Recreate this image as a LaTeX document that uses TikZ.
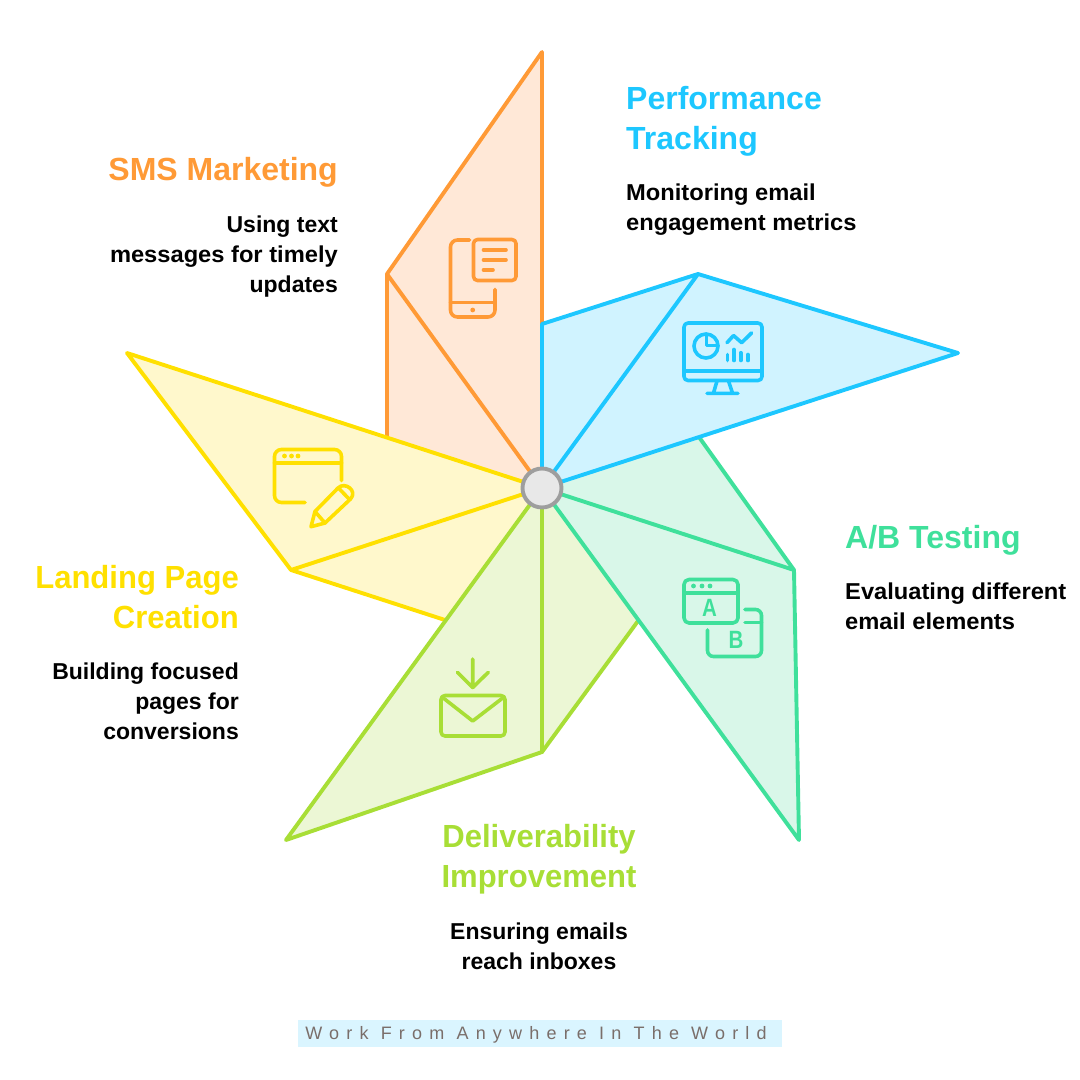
\documentclass[tikz,border=0pt]{standalone}
\usepackage{fontspec}
\setmainfont{Liberation Sans}
\newfontfamily\footfont[LetterSpace=40]{Liberation Sans}
\definecolor{cOr}{HTML}{FF9A36}\definecolor{fOr}{HTML}{FFE8D7}
\definecolor{cBl}{HTML}{1DC7FF}\definecolor{fBl}{HTML}{D0F3FF}
\definecolor{cGr}{HTML}{3FE09B}\definecolor{fGr}{HTML}{D9F7E9}
\definecolor{cLi}{HTML}{A8DE36}\definecolor{fLi}{HTML}{ECF7D5}
\definecolor{cYe}{HTML}{FFE000}\definecolor{fYe}{HTML}{FFF8CC}
\newcommand\fl[1]{\rule{0pt}{#1pt}}
\newcommand\wide[1]{{\addfontfeature{FakeStretch=1.03}#1}}
\newcommand\narrow[1]{{\addfontfeature{FakeStretch=0.97}#1}}
\tikzset{
 x=1pt,y=-1pt,
 blade/.style={line width=3.9pt,line join=round,line cap=round},
 icon/.style={line width=3.6pt,line join=round,line cap=round},
 title/.style={inner sep=0pt,font=\fontsize{32}{40}\selectfont\bfseries},
 desc/.style={inner sep=0pt,text=black,font=\fontsize{23}{30}\selectfont\bfseries},
 glyph/.style={inner sep=0pt,font=\fontsize{25}{25}\selectfont\bfseries\addfontfeature{FakeStretch=0.82}}
}
\begin{document}
\begin{tikzpicture}
\useasboundingbox (0,0) rectangle (1080,1080);
% orange blade
\fill[fOr] (542,52)--(542,488)--(387,437)--(387,274)--cycle;
\draw[blade,cOr] (387,437)--(387,274)--(542,52)--(542,488)--(387,274);
% yellow blade
\fill[fYe] (127,353)--(542,488)--(445,620)--(291,570)--cycle;
\draw[blade,cYe] (542,488)--(127,353)--(291,570)--(542,488);
\draw[blade,cYe] (291,570)--(445,620);
% lime blade
\fill[fLi] (542,488)--(286,840)--(542,752)--(638,621)--cycle;
\draw[blade,cLi] (542,488)--(286,840)--(542,752)--(638,621);
\draw[blade,cLi] (542,488)--(542,752);
% green blade
\fill[fGr] (542,488)--(699,437)--(794,570)--(799,840)--cycle;
\draw[blade,cGr] (699,437)--(794,570)--(799,840)--(542,488)--(794,570);
% blue blade
\fill[fBl] (542,488)--(542,324)--(698,274)--(958,353)--cycle;
\draw[blade,cBl] (542,488)--(542,324)--(698,274)--(958,353)--(542,488)--(698,274);
% hub
\draw[line width=3.9pt,draw=black!38,fill=black!9] (542,488) circle (19.5);
% phone icon
\begin{scope}[icon,cOr]
\draw[rounded corners=7] (469.5,240)--(450.5,240)--(450.5,317)--(495,317)--(495,289.5);
\draw (450.5,302.5)--(495,302.5);
\fill (472.7,310) circle (2.4);
\draw[rounded corners=4] (473.5,239.5) rectangle (516,280.5);
\draw (483.5,250)--(506,250) (483.5,260)--(506,260) (483.5,270)--(493,270);
\end{scope}
% monitor icon
\begin{scope}[icon,cBl]
\draw[rounded corners=4] (684,323) rectangle (762,380.5);
\draw (684,371)--(762,371);
\draw (717,381)--(713.5,393) (728.5,381)--(732.5,393) (707,393.3)--(738,393.3);
\draw (706,346) circle (12);
\draw (706.5,334)--(706.5,345.5)--(718,345.5);
\draw (727,342.7)--(733.5,335.5)--(741.7,342.7)--(751.5,333);
\draw (727.3,354.5)--(727.3,360.5) (734,349.5)--(734,360.5) (740.7,352.7)--(740.7,360.5) (748,354.5)--(748,360.5);
\end{scope}
% window and pencil icon
\begin{scope}[icon,cYe]
\draw[rounded corners=7] (341.5,480.5)--(341.5,449.5)--(274.5,449.5)--(274.5,502.5)--(305,502.5);
\draw (274.5,462.7)--(341.5,462.7);
\fill (284.5,456) circle (2.4) (291.5,456) circle (2.4) (298,456) circle (2.4);
\draw (315,511.5)--(338,488) .. controls (345,481) and (358,491) .. (350.5,499)--(325,523)--(311,526.7)--cycle;
\draw (339.5,489)--(349.5,499.5) (315,511.5)--(325,523);
\end{scope}
% A/B icon
\begin{scope}[icon,cGr]
\draw[rounded corners=5] (684,579.5) rectangle (738,623);
\draw (684,592.7)--(738,592.7);
\fill (693.5,586) circle (2.4) (702,586) circle (2.4) (710,586) circle (2.4);
\draw[rounded corners=6] (745,609.5)--(761.5,609.5)--(761.5,656.5)--(707.5,656.5)--(707.5,630);
\draw (745,622.3)--(761.5,622.3);
\end{scope}
\node[glyph,text=cGr] (glyA) at (709.5,608) {A};
\node[glyph,text=cGr] (glyB) at (736,640) {B};
% envelope icon
\begin{scope}[icon,cLi]
\draw[rounded corners=4] (441,695.5) rectangle (505,736);
\draw (442,697)--(472.7,721)--(504,697);
\draw (472.7,659)--(472.7,687.5) (457.5,672.3)--(472.7,687.5)--(488.3,672.3);
\end{scope}
% texts
\node[title,text=cOr,anchor=north east] (t1) at (338,148) {\fl{32}SMS Marketing};
\node[desc,anchor=north east,align=right] (d1) at (338,209) {\fl{23}Using text\\\wide{messages for timely}\\updates};
\node[title,text=cBl,anchor=north west,align=left] (t2) at (626,77) {\fl{32}Performance\\Tracking};
\node[desc,anchor=north west,align=left] (d2) at (626,177) {\fl{23}\wide{Monitoring email}\\\wide{engagement metrics}};
\node[title,text=cGr,anchor=north west] (t3) at (845,516) {\fl{32}A/B Testing};
\node[desc,anchor=north west,align=left] (d3) at (845,576) {\fl{23}\wide{Evaluating different}\\\wide{email elements}};
\node[title,text=cYe,anchor=north east,align=right] (t4) at (239,556) {\fl{32}\narrow{Landing Page}\\\narrow{Creation}};
\node[desc,anchor=north east,align=right] (d4) at (239,656) {\fl{23}Building focused\\pages for\\conversions};
\node[title,text=cLi,anchor=north,align=center] (t5) at (539,815) {\fl{32}\narrow{Deliverability}\\\narrow{Improvement}};
\node[desc,anchor=north,align=center] (d5) at (539,916) {\fl{23}Ensuring emails\\reach inboxes};
% footer
\fill[fBl!80!white] (298,1020) rectangle (782,1047);
\node[inner sep=0pt,text={rgb,255:red,122;green,110;blue,106},font=\footfont\fontsize{18}{20}\selectfont] (foot) at (536,1034.5) {Work From Anywhere In The World};
\end{tikzpicture}
\end{document}
